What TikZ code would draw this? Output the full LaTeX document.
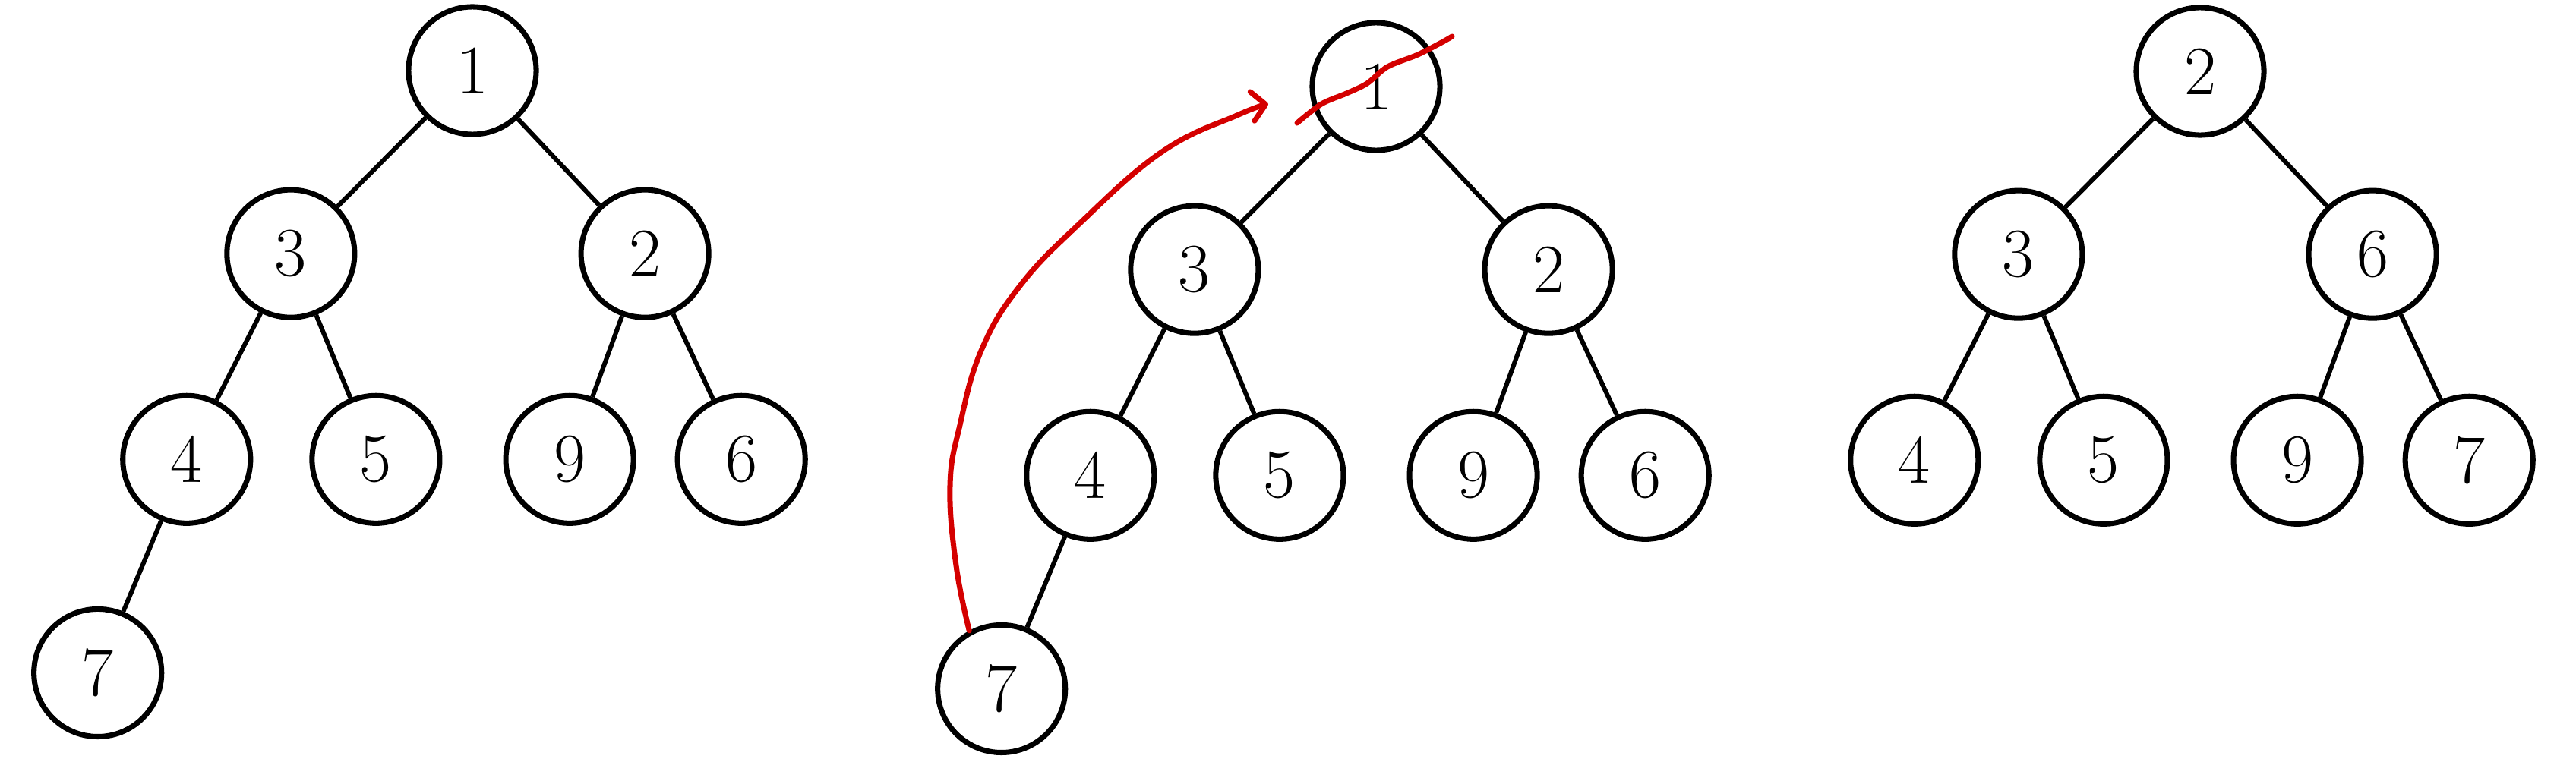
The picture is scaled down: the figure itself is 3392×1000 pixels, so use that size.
\documentclass[tikz,border=0pt]{standalone}
\usepackage{tikz}
\usetikzlibrary{arrows.meta,positioning}
\definecolor{heapred}{RGB}{212,0,0}

\begin{document}
\begin{tikzpicture}[x=0.01cm,y=-0.01cm,on grid,
      key/.style={circle,draw,line width=2pt,minimum size=1.68cm,inner sep=0pt,
        font=\fontsize{26}{26}\selectfont},
      link/.style={line width=1.7pt},
      redmark/.style={draw=heapred,line width=2pt,line cap=round,line join=round}]
    \useasboundingbox (0,0) rectangle (3392,1000);
    % heap before
    \node[key] (a1) at (622,93) {1};
    \node[key] (a3) [below left=2.41cm and 2.39cm of a1] {3};
    \node[key] (a2) [below right=2.41cm and 2.27cm of a1] {2};
    \node[key] (a4) [below left=2.71cm and 1.37cm of a3] {4};
    \node[key] (a5) [below right=2.71cm and 1.12cm of a3] {5};
    \node[key] (a9) [below left=2.71cm and 0.99cm of a2] {9};
    \node[key] (a6) [below right=2.71cm and 1.27cm of a2] {6};
    \node[key] (a7) [below left=2.81cm and 1.17cm of a4] {7};
    \path[link] (a1) edge (a3) edge (a2)
    (a3) edge (a4) edge (a5)
    (a2) edge (a9) edge (a6)
    (a4) edge (a7);
    % heap while removing the top
    \node[key] (b1) at (1812,114) {1};
    \node[key] (b3) [below left=2.41cm and 2.39cm of b1] {3};
    \node[key] (b2) [below right=2.41cm and 2.27cm of b1] {2};
    \node[key] (b4) [below left=2.71cm and 1.37cm of b3] {4};
    \node[key] (b5) [below right=2.71cm and 1.12cm of b3] {5};
    \node[key] (b9) [below left=2.71cm and 0.99cm of b2] {9};
    \node[key] (b6) [below right=2.71cm and 1.27cm of b2] {6};
    \node[key] (b7) [below left=2.81cm and 1.17cm of b4] {7};
    \path[link] (b1) edge (b3) edge (b2)
    (b3) edge (b4) edge (b5)
    (b2) edge (b9) edge (b6)
    (b4) edge (b7);
    \coordinate (tip) at (1670,137);
    \draw[redmark,-{Straight Barb[length=5pt,width=11pt,round]}]
      plot[smooth,tension=0.7] coordinates {(b7.119) (1259,745) (1251,640)
        (1264,560) (1292,462) (1342,378) (1420,296) (1530,200) (1631,151) (tip)};
    \coordinate (s0) at (1708,162);
    \coordinate (s1) at (1912,48);
    \draw[redmark] plot[smooth] coordinates {(s0) (1740,137) (1773,123)
      (1800,110) (1827,88) (1867,72) (1900,55) (s1)};
    % heap after
    \node[key] (c2) at (2897,94) {2};
    \node[key] (c3) [below left=2.41cm and 2.39cm of c2] {3};
    \node[key] (c6) [below right=2.41cm and 2.27cm of c2] {6};
    \node[key] (c4) [below left=2.71cm and 1.37cm of c3] {4};
    \node[key] (c5) [below right=2.71cm and 1.12cm of c3] {5};
    \node[key] (c9) [below left=2.71cm and 0.99cm of c6] {9};
    \node[key] (c7) [below right=2.71cm and 1.27cm of c6] {7};
    \path[link] (c2) edge (c3) edge (c6)
    (c3) edge (c4) edge (c5)
    (c6) edge (c9) edge (c7);
  \end{tikzpicture}
\end{document}
